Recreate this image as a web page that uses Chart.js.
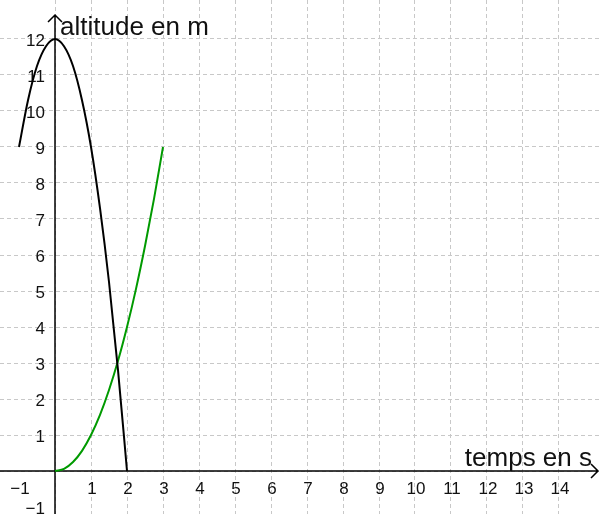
<!DOCTYPE html>
<html>
<head>
<meta charset="utf-8">
<script src="https://cdn.jsdelivr.net/npm/chart.js@4/dist/chart.umd.min.js"></script>
<style>
  body { margin: 0; background: #fff; }
  #wrap { width: 600px; height: 514px; }
</style>
</head>
<body>
<div id="wrap"><canvas id="altChart"></canvas></div>
<script>
// values
const blackTimes = [-1, -0.75, -0.5, -0.25, 0, 0.25, 0.5, 0.75, 1, 1.25, 1.5, 1.75, 2];
const blackAltitudes = [9, 10.3, 11.25, 11.8, 12, 11.8, 11.25, 10.3, 9, 7.3, 5.25, 2.8, 0];
const greenTimes = [0, 0.25, 0.5, 0.75, 1, 1.25, 1.5, 1.75, 2, 2.25, 2.5, 2.75, 3];
const greenAltitudes = [0, 0.06, 0.25, 0.56, 1, 1.56, 2.25, 3.06, 4, 5.06, 6.25, 7.56, 9];
const xTickLabels = [-1, 1, 2, 3, 4, 5, 6, 7, 8, 9, 10, 11, 12, 13, 14];
const yTickLabels = [-1, 1, 2, 3, 4, 5, 6, 7, 8, 9, 10, 11, 12];
const xTitle = 'temps en s';
const yTitle = 'altitude en m';

function toPoints(xs, ys) {
    return xs.map((x, i) => ({ x: x, y: ys[i] }));
}

function fmt(v) {
    return v < 0 ? '\u2212' + Math.abs(v) : String(v);
}

// axes, arrows and labels drawn the GeoGebra way
const axesPlugin = {
    id: 'axes',
    beforeDatasetsDraw(chart) {
        const ctx = chart.ctx;
        const xs = chart.scales.x, ys = chart.scales.y;
        const ox = xs.getPixelForValue(0), oy = ys.getPixelForValue(0);
        const area = chart.chartArea;
        ctx.save();
        ctx.strokeStyle = '#000';
        ctx.lineWidth = 1.5;
        // x axis
        ctx.beginPath();
        ctx.moveTo(area.left, oy);
        ctx.lineTo(area.right - 2, oy);
        ctx.moveTo(area.right - 9, oy - 7);
        ctx.lineTo(area.right - 2, oy);
        ctx.lineTo(area.right - 9, oy + 7);
        ctx.stroke();
        // y axis
        ctx.beginPath();
        ctx.moveTo(ox, area.bottom);
        ctx.lineTo(ox, 15);
        ctx.moveTo(ox - 7, 22);
        ctx.lineTo(ox, 15);
        ctx.lineTo(ox + 7, 22);
        ctx.stroke();

        ctx.fillStyle = '#111';
        ctx.font = '17px "Liberation Sans", Arial, sans-serif';
        ctx.textAlign = 'center';
        ctx.textBaseline = 'middle';
        xTickLabels.forEach(v => {
            ctx.fillText(fmt(v), xs.getPixelForValue(v) + 1, oy + 18);
        });
        ctx.textAlign = 'right';
        yTickLabels.forEach(v => {
            ctx.fillText(fmt(v), ox - 10, ys.getPixelForValue(v) + 2);
        });

        ctx.font = '26px "Liberation Sans", Arial, sans-serif';
        ctx.textBaseline = 'alphabetic';
        ctx.textAlign = 'left';
        ctx.fillText(yTitle, ox + 5, 35);
        ctx.textAlign = 'right';
        ctx.fillText(xTitle, area.right - 8, oy - 5);
        ctx.restore();
    }
};

function integerTicks(scale) {
    scale.ticks = scale.ticks.filter(t => Number.isInteger(t.value));
}

new Chart(document.getElementById('altChart'), {
    type: 'scatter',
    data: {
        datasets: [{
            data: toPoints(blackTimes, blackAltitudes),
            showLine: true,
            borderColor: '#000',
            borderWidth: 2,
            pointRadius: 0,
            cubicInterpolationMode: 'monotone'
        }, {
            data: toPoints(greenTimes, greenAltitudes),
            showLine: true,
            borderColor: '#009a00',
            borderWidth: 2,
            pointRadius: 0,
            cubicInterpolationMode: 'monotone'
        }]
    },
    options: {
        responsive: true,
        maintainAspectRatio: false,
        animation: false,
        layout: { padding: 0 },
        plugins: {
            legend: { display: false },
            tooltip: { enabled: false }
        },
        scales: {
            x: {
                type: 'linear',
                min: -1.528,
                max: 15.139,
                afterBuildTicks: integerTicks,
                ticks: { display: false, stepSize: 1 },
                grid: { color: '#c8c8c8', lineWidth: 1, drawTicks: false },
                border: { display: false, dash: [4, 3] }
            },
            y: {
                type: 'linear',
                min: -1.194,
                max: 13.083,
                afterBuildTicks: integerTicks,
                ticks: { display: false, stepSize: 1 },
                grid: { color: '#c8c8c8', lineWidth: 1, drawTicks: false },
                border: { display: false, dash: [4, 3] }
            }
        }
    },
    plugins: [axesPlugin]
});
</script>
</body>
</html>
